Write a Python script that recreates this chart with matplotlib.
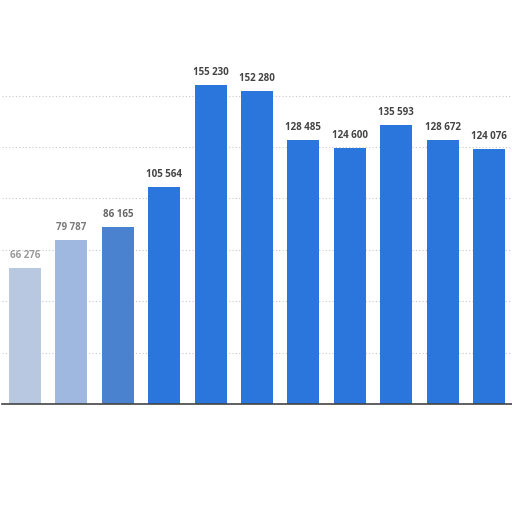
import matplotlib
matplotlib.use("agg")
import matplotlib.pyplot as plt
import numpy as np

# values (fifth label is hidden)
values = [66276, 79787, 86165, 105564, 155230, 152280,
          128485, 124600, 135593, 128672, 124076]
labels = ["66 276", "79 787", "86 165", "105 564", "155 230", "152 280",
          "128 485", "124 600", "135 593", "128 672", "124 076"]

BLUE = "#2a76dc"
# the first bars look washed out in the reference
bar_colors = ["#b8c8e0", "#9fb8df", "#4a82d0"] + [BLUE] * 8
label_colors = ["#9a9a9a", "#7a7a7a", "#666666"] + ["#444444"] * 8

fig = plt.figure(figsize=(5.12, 5.12), dpi=100)
ax = fig.add_axes([0.0037, 0.211, 0.9965, 0.672])

x = np.arange(len(values))
ax.bar(x, values, width=0.69, color=bar_colors, zorder=2)

for xi, v, lab, c in zip(x, values, labels, label_colors):
    ax.annotate(lab, (xi, v), xytext=(0, 5), textcoords="offset points",
                ha="center", va="bottom", fontsize=7, fontweight="bold",
                color=c, family=["Open Sans", "DejaVu Sans"])

ax.set_xlim(-0.5, len(values) - 0.5)
ax.set_ylim(0, 167400)
ax.set_yticks(np.arange(25000, 150001, 25000))
ax.yaxis.grid(True, linestyle=(0, (1, 2)), color="#c8c8c8", linewidth=0.8, zorder=0)
ax.tick_params(left=False, bottom=False, labelleft=False, labelbottom=False)
for s in ["top", "left", "right"]:
    ax.spines[s].set_visible(False)
ax.spines["bottom"].set_color("#444444")
ax.spines["bottom"].set_linewidth(1.2)

fig.savefig("out.png", dpi=100, facecolor="white")
